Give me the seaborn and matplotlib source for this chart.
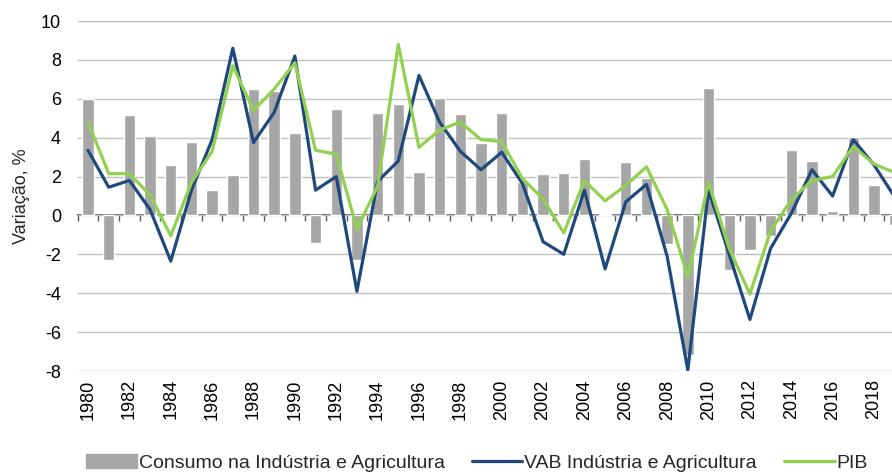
import numpy as np
import pandas as pd
import matplotlib
matplotlib.use("Agg")
import matplotlib.pyplot as plt
from matplotlib.patches import Patch
from matplotlib.lines import Line2D
import seaborn as sns

# Annual growth rates (%)
years = [str(y) for y in range(1980, 2020)]
consumo = [6.0, -2.3, 5.15, 4.1, 2.6, 3.8, 1.3, 2.1, 6.5, 6.4,
           4.25, -1.4, 5.5, -2.3, 5.25, 5.75, 2.25, 6.05, 5.2, 3.75,
           5.25, 1.7, 2.15, 2.2, 2.9, 0.1, 2.75, 1.95, -1.45, -7.2,
           6.55, -2.8, -1.8, -1.05, 3.35, 2.8, 0.25, 4.05, 1.55, -0.5]
vab = [3.35, 1.45, 1.8, 0.3, -2.35, 1.3, 3.9, 8.6, 3.75, 5.3,
       8.2, 1.3, 2.0, -3.9, 1.75, 2.8, 7.2, 4.8, 3.3, 2.35,
       3.25, 1.65, -1.35, -2.0, 1.3, -2.75, 0.7, 1.6, -2.1, -7.95,
       1.3, -2.0, -5.35, -1.7, 0.1, 2.35, 1.0, 3.9, 2.6, 0.95]
pib = [4.8, 2.15, 2.15, 1.05, -1.05, 1.7, 3.3, 7.7, 5.4, 6.5,
       7.85, 3.35, 3.15, -0.7, 1.5, 8.8, 3.5, 4.4, 4.8, 3.9,
       3.8, 1.9, 0.85, -0.9, 1.8, 0.75, 1.55, 2.5, 0.3, -3.15,
       1.7, -1.7, -4.05, -0.8, 0.8, 1.8, 2.0, 3.55, 2.65, 2.2]

labels = ["Consumo na Indústria e Agricultura", "VAB Indústria e Agricultura", "PIB"]
c_bar, c_vab, c_pib = "#A6A6A6", "#1F497D", "#92D050"

df = pd.DataFrame({"ano": years, "consumo": consumo, "vab": vab, "pib": pib})
df["pos"] = np.arange(len(df))

sns.set_theme(style="white")
plt.rcParams["font.family"] = ["Liberation Sans", "DejaVu Sans"]
plt.rcParams["axes.unicode_minus"] = False

fig = plt.figure(figsize=(8.92, 4.72), dpi=100)
ax = fig.add_axes([77.7 / 892, 1 - 371 / 472, (905 - 77.7) / 892, 350 / 472])

sns.barplot(data=df, x="ano", y="consumo", color=c_bar, saturation=1,
            width=0.55, ax=ax, zorder=2)
sns.lineplot(data=df, x="pos", y="vab", color=c_vab, lw=2.3, ax=ax, zorder=3)
sns.lineplot(data=df, x="pos", y="pib", color=c_pib, lw=2.3, ax=ax, zorder=4)

ymin, ymax = -8, 10
ax.set_ylim(ymin, ymax)
ax.set_xlim(-0.5, len(years) - 0.5)
ax.set_yticks(np.arange(ymin, ymax + 1, 2))
ax.yaxis.grid(True, color="#BFBFBF", lw=1)
ax.set_axisbelow(True)
for s in ax.spines.values():
    s.set_visible(False)

ax.set_xticks(df["pos"][::2])
ax.set_xticklabels(df["ano"][::2], rotation=90)
ax.tick_params(axis="both", length=0, labelsize=13, colors="black")
ax.tick_params(axis="y", pad=12)
ax.tick_params(axis="x", pad=6)
ax.set_xlabel("")
ax.set_ylabel("Variação, %", fontsize=13, labelpad=8)

# Zero axis with boundary ticks between categories
zero = ax.secondary_xaxis((0 - ymin) / (ymax - ymin))
zero.spines["bottom"].set_color("#595959")
zero.spines["bottom"].set_linewidth(1.2)
zero.set_xticks(np.arange(-0.5, len(years), 1))
zero.set_xticklabels([])
zero.tick_params(length=4, width=1, color="#595959", direction="out")

handles = [Patch(color=c_bar), Line2D([], [], color=c_vab, lw=2.3),
           Line2D([], [], color=c_pib, lw=2.3)]
fig.legend(handles, labels, loc="center", bbox_to_anchor=(477 / 892, 1 - 463 / 472),
           ncol=3, frameon=False, fontsize=14, handlelength=2.6,
           handletextpad=0.1, columnspacing=1.4)

fig.savefig("out.png", dpi=100)
